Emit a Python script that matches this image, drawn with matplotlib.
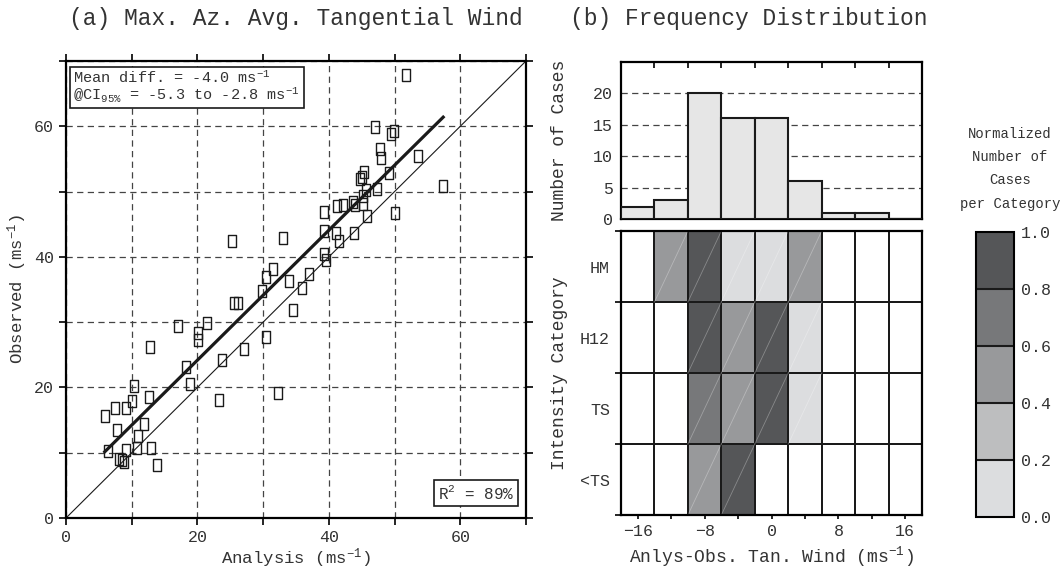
import numpy as np
import matplotlib
matplotlib.use('Agg')
import matplotlib.pyplot as plt
from matplotlib.path import Path
from matplotlib.colors import ListedColormap, BoundaryNorm

plt.rcParams['font.family'] = ['Liberation Mono', 'DejaVu Sans Mono']
plt.rcParams['mathtext.fontset'] = 'custom'
plt.rcParams['mathtext.rm'] = 'Liberation Mono'
plt.rcParams['mathtext.it'] = 'Liberation Mono'
plt.rcParams['mathtext.bf'] = 'Liberation Mono:bold'
plt.rcParams['mathtext.sf'] = 'Liberation Mono'

# max azimuthally averaged tangential wind (m/s)
analysis = [51.7, 47.1, 49.5, 49.9, 47.8, 48.0, 53.5, 49.2, 45.4, 45.0,
            44.7, 47.4, 45.7, 57.4, 45.2, 43.7, 42.2, 41.2, 45.2, 44.0,
            45.8, 50.0, 39.2, 39.3, 41.1, 41.6, 43.8, 39.3, 39.6, 33.0,
            25.3, 31.5, 30.5, 34.0, 37.0, 35.9, 29.8, 34.6, 25.5, 26.2,
            30.5, 17.1, 21.5, 20.1, 20.1, 12.8, 27.1, 23.7, 18.3, 18.8,
            23.3, 32.3, 10.3, 10.1, 12.7, 5.9, 7.5, 9.1, 7.8, 11.8,
            11.0, 6.4, 9.2, 10.8, 13.0, 8.1, 8.5, 8.9, 13.8]
observed = [67.9, 59.9, 58.8, 59.3, 56.5, 55.1, 55.5, 52.9, 53.0, 52.3,
            52.0, 50.4, 50.3, 50.9, 49.3, 48.4, 47.9, 47.8, 48.1, 47.9,
            46.3, 46.7, 46.8, 43.9, 43.7, 42.4, 43.7, 40.4, 39.5, 42.9,
            42.4, 38.1, 36.9, 36.3, 37.3, 35.3, 34.8, 31.9, 32.9, 32.9,
            27.7, 29.4, 29.8, 28.4, 27.2, 26.2, 25.9, 24.2, 23.1, 20.6,
            18.0, 19.2, 20.2, 17.9, 18.5, 15.7, 16.8, 16.8, 13.5, 14.4,
            12.5, 10.3, 10.4, 10.7, 10.8, 9.1, 8.9, 8.6, 8.1]

# analysis - observed difference bins
bin_edges = [-18, -14, -10, -6, -2, 2, 6, 10, 14, 18]
bin_counts = [2, 3, 20, 16, 16, 6, 1, 1, 0]

categories = ['<TS', 'TS', 'H12', 'HM']
norm_ts_lo = [0, 0, 0.50, 1.00, 0, 0, 0, 0, 0]
norm_ts = [0, 0, 0.71, 0.57, 1.00, 0.14, 0, 0, 0]
norm_h12 = [0, 0, 1.00, 0.50, 0.90, 0.17, 0, 0, 0]
norm_hm = [0, 0.50, 1.00, 0.17, 0.17, 0.50, 0, 0, 0]

levels = [0.0, 0.2, 0.4, 0.6, 0.8, 1.0]
shades = ['#dcdddf', '#bdbebf', '#98999b', '#77787a', '#555658']

INK = '#1a1a1a'
TXT = '#333333'
DASH = (0, (5, 3.5))


def main():
    fig = plt.figure(figsize=(10.63, 5.68), dpi=100)

    # ---- (a) scatter ----
    ax1 = fig.add_axes([0.0621, 0.0880, 0.4327, 0.8046])
    rect = Path([(-0.375, -0.5), (0.375, -0.5), (0.375, 0.5), (-0.375, 0.5), (-0.375, -0.5)],
                [Path.MOVETO, Path.LINETO, Path.LINETO, Path.LINETO, Path.CLOSEPOLY])
    ax1.plot(analysis, observed, linestyle='none', marker=rect, ms=8.6,
             mfc='none', mec=INK, mew=1.0, zorder=3)
    ax1.axline((0, 0), slope=1, color=INK, lw=0.8, zorder=2)
    a = np.array(analysis)
    coef = np.polyfit(a, np.array(observed), 1)
    xs = np.array([a.min(), a.max()])
    ax1.plot(xs, np.polyval(coef, xs), color=INK, lw=2.3, zorder=4)

    ax1.set_xlim(0, 70)
    ax1.set_ylim(0, 70)
    ticks = np.arange(0, 71, 10)
    lbls = [str(t) if t % 20 == 0 else '' for t in ticks]
    ax1.set_xticks(ticks, lbls)
    ax1.set_yticks(ticks, lbls)
    ax1.grid(True, linestyle=DASH, color='#444444', lw=0.9)
    ax1.tick_params(direction='out', length=5, width=1.2, top=True, right=True,
                    labelsize=12, labelcolor=TXT)
    for s in ax1.spines.values():
        s.set_linewidth(1.6)
    ax1.set_xlabel('Analysis (ms$^{-1}$)', fontsize=12.5, color=TXT, labelpad=1)
    ax1.set_ylabel('Observed (ms$^{-1}$)', fontsize=12.5, color=TXT, labelpad=4)

    box = dict(boxstyle='square,pad=0.25', fc='white', ec=INK, lw=1.2)
    ax1.text(0.016, 0.982, 'Mean diff. = -4.0 ms$^{-1}$\n@CI$_{95\\%}$ = -5.3 to -2.8 ms$^{-1}$',
             transform=ax1.transAxes, ha='left', va='top', fontsize=11, color=TXT,
             bbox=box, linespacing=0.95, zorder=6)
    ax1.text(0.975, 0.035, 'R$^{2}$ = 89%', transform=ax1.transAxes, ha='right', va='bottom',
             fontsize=11.5, color=TXT, bbox=box, zorder=6)

    # ---- (b) histogram ----
    ax2 = fig.add_axes([0.5842, 0.6139, 0.2832, 0.2775])
    ax2.bar(bin_edges[:-1], bin_counts, width=4, align='edge', color='#e6e6e6',
            edgecolor=INK, lw=1.5, zorder=3)
    ax2.set_xlim(-18, 18)
    ax2.set_ylim(0, 25)
    ax2.set_yticks([0, 5, 10, 15, 20])
    ax2.set_xticks(bin_edges)
    ax2.yaxis.grid(True, linestyle=DASH, color='#444444', lw=0.9)
    ax2.tick_params(axis='x', bottom=False, top=True, direction='in', length=4,
                    width=1.2, labelbottom=False)
    ax2.tick_params(axis='y', length=0, labelsize=12, labelcolor=TXT, pad=6)
    for s in ax2.spines.values():
        s.set_linewidth(1.6)
    ax2.set_ylabel('Number of Cases', fontsize=13, color=TXT)
    ax2.yaxis.set_label_coords(-0.175, 0.5)

    # ---- (b) normalized distribution per intensity category ----
    ax3 = fig.add_axes([0.5842, 0.0933, 0.2832, 0.5])
    grid = np.ma.masked_equal(np.array([norm_ts_lo, norm_ts, norm_h12, norm_hm]), 0)
    cmap = ListedColormap(shades)
    cmap.set_bad('white')
    norm = BoundaryNorm(levels, cmap.N, clip=True)
    rows = np.arange(len(categories) + 1)
    mesh = ax3.pcolormesh(bin_edges, rows, grid, cmap=cmap, norm=norm,
                          edgecolors=INK, linewidth=1.2)
    # faint seams across the filled cells
    for j in range(grid.shape[0]):
        for i in range(grid.shape[1]):
            if grid.mask[j, i]:
                continue
            ax3.plot([bin_edges[i], bin_edges[i + 1]], [rows[j], rows[j + 1]],
                     color='white', alpha=0.3, lw=0.6)
    ax3.set_xlim(-18, 18)
    ax3.set_ylim(0, 4)
    ax3.set_xticks([-16, -8, 0, 8, 16])
    ax3.set_xticks(np.arange(-16, 17, 4), minor=True)
    ax3.set_yticks(rows[:-1] + 0.5, categories)
    ax3.set_yticks(rows, minor=True)
    ax3.tick_params(axis='x', which='both', direction='out', length=3, width=1.2,
                    labelsize=12, labelcolor=TXT)
    ax3.tick_params(axis='y', which='major', length=0, labelsize=12, labelcolor=TXT, pad=8)
    ax3.tick_params(axis='y', which='minor', direction='out', length=4, width=1.2)
    for s in ax3.spines.values():
        s.set_linewidth(1.6)
    ax3.set_xlabel('Anlys-Obs. Tan. Wind (ms$^{-1}$)', fontsize=13, color=TXT, labelpad=4)
    ax3.set_ylabel('Intensity Category', fontsize=13, color=TXT)
    ax3.yaxis.set_label_coords(-0.175, 0.5)

    cax = fig.add_axes([0.9182, 0.0898, 0.0357, 0.5018])
    cb = fig.colorbar(mesh, cax=cax, ticks=levels, format='%.1f', drawedges=True)
    cb.outline.set_linewidth(1.5)
    cb.dividers.set_linewidth(1.5)
    cb.dividers.set_color(INK)
    cb.ax.tick_params(length=0, labelsize=12, labelcolor=TXT, pad=5)
    fig.text(0.950, 0.777, 'Normalized\nNumber of\nCases\nper Category', ha='center',
             va='top', fontsize=10, color=TXT, linespacing=1.85)

    fig.text(0.2784, 0.968, '(a) Max. Az. Avg. Tangential Wind', ha='center', va='center',
             fontsize=16.5, color=TXT)
    fig.text(0.7046, 0.968, '(b) Frequency Distribution', ha='center', va='center',
             fontsize=16.5, color=TXT)

    fig.savefig('out.png', dpi=100)


if __name__ == '__main__':
    main()
